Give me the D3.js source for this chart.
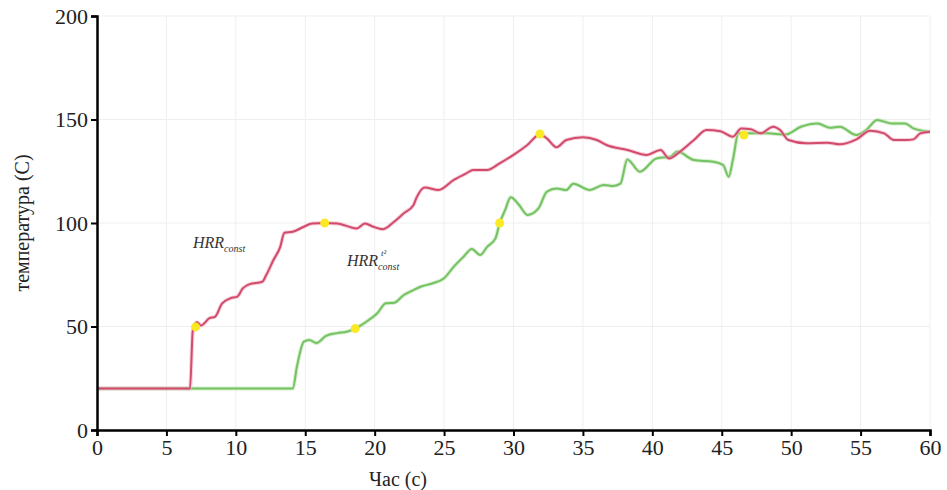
<!DOCTYPE html>
<html>
<head>
<meta charset="utf-8">
<script src="https://cdn.jsdelivr.net/npm/d3@7"></script>
<style>
  body { margin: 0; background: #fff; }
  svg text { font-family: "Liberation Serif", "Times New Roman", "DejaVu Serif", serif; }
</style>
</head>
<body>
<div id="chart"></div>
<script>
// Data
const constTime = [0, 6.7, 6.9, 7.2, 7.5, 8.1, 8.5, 9.0, 9.6, 10.1, 10.5, 11.0, 11.9, 12.2, 12.7, 13.2, 13.5, 14.1, 14.9, 15.5, 16.4, 17.3, 18.7, 19.3, 19.9, 20.6, 21.4, 22.1, 22.8, 23.0, 23.6, 24.6, 25.7, 26.6, 27.1, 28.1, 29.0, 30.0, 31.0, 31.9, 32.4, 33.1, 33.8, 35.0, 36.0, 36.7, 38.2, 39.6, 40.6, 41.2, 42.0, 43.0, 43.9, 44.9, 45.8, 46.4, 47.1, 47.8, 48.7, 49.2, 49.8, 51.1, 52.6, 53.5, 54.7, 55.7, 56.7, 57.4, 58.3, 58.8, 59.3, 60];
const constTemp = [20, 20, 48, 52, 50.5, 54, 54.7, 61, 63.6, 64.4, 68.4, 70.5, 71.6, 75, 82, 88.5, 95.3, 95.8, 98.2, 99.8, 100, 99.8, 97.4, 99.8, 98.2, 97, 100.6, 104.7, 108.7, 112, 117.2, 115.9, 120.8, 124, 125.6, 125.6, 128.8, 132.9, 137.7, 142.8, 140.9, 136.6, 140.1, 141.4, 140.1, 137.7, 135.3, 132.9, 135.3, 131.2, 134.5, 140.1, 144.9, 144.3, 141.7, 145.7, 145.3, 143.3, 146.5, 144.9, 140.1, 138.5, 138.8, 138, 140.4, 144.6, 143.3, 140.1, 140.1, 140.4, 143.3, 144.1];

const t2Time = [0, 14.1, 14.4, 14.9, 15.3, 15.8, 16.5, 17.3, 18.0, 18.6, 19.4, 20.2, 20.8, 21.4, 22.1, 22.8, 23.3, 24.2, 25.0, 25.7, 26.4, 27.0, 27.6, 28.1, 28.7, 29.0, 29.4, 29.8, 30.4, 31.0, 31.8, 32.4, 33.1, 33.8, 34.3, 35.5, 36.5, 37.2, 37.7, 38.2, 39.1, 40.3, 41.3, 41.8, 43.0, 44.4, 45.1, 45.5, 45.8, 46.2, 47.1, 48.3, 49.6, 50.7, 51.9, 52.8, 53.5, 54.7, 55.4, 56.2, 57.2, 58.2, 58.8, 60];
const t2Temp = [20, 20, 30.6, 42.7, 43.5, 42, 45.5, 46.8, 47.5, 49, 52.3, 56.5, 61.2, 61.5, 65.2, 67.6, 69.2, 70.9, 73.3, 78.9, 83.7, 87.5, 84.5, 88.5, 92.6, 99.8, 106.3, 112.5, 108.7, 103.9, 107.1, 115.1, 116.7, 115.9, 119, 116, 118.4, 117.9, 119, 130.7, 124.8, 131.2, 132, 134.5, 130.4, 129.6, 128, 122.4, 130.4, 143.3, 143.3, 143.3, 142.8, 146.5, 148.1, 146, 146.5, 142.5, 144.9, 149.8, 148.1, 148.1, 145.7, 144.1];

// yellow marker points
const markTime = [7.1, 16.4, 31.9, 46.6, 18.6, 29.0];
const markTemp = [49.8, 100, 143, 142.5, 49, 100];

const xTicks = [0, 5, 10, 15, 20, 25, 30, 35, 40, 45, 50, 55, 60];
const yTicks = [0, 50, 100, 150, 200];

const serif = "'Liberation Serif', 'Times New Roman', 'DejaVu Serif', serif";

const W = 947, H = 490;
const margin = { top: 16, right: 17, bottom: 60, left: 97 };
const width = W - margin.left - margin.right,
  height = H - margin.top - margin.bottom;

const svg = d3.select("#chart").append("svg")
  .attr("width", W)
  .attr("height", H);

const g = svg.append("g")
  .attr("transform", `translate(${margin.left},${margin.top})`);

const x = d3.scaleLinear().domain([0, 60]).range([0, width]);
const y = d3.scaleLinear().domain([0, 200]).range([height, 0]);

// faint grid
g.append("g").selectAll("line")
  .data(xTicks.slice(1))
  .enter().append("line")
  .attr("x1", d => x(d)).attr("x2", d => x(d))
  .attr("y1", 0).attr("y2", height)
  .attr("stroke", "#efefef").attr("stroke-width", 1);

g.append("g").selectAll("line")
  .data(yTicks.slice(1))
  .enter().append("line")
  .attr("x1", 0).attr("x2", width)
  .attr("y1", d => y(d)).attr("y2", d => y(d))
  .attr("stroke", "#efefef").attr("stroke-width", 1);

const line = d3.line()
  .x(d => x(d[0]))
  .y(d => y(d[1]))
  .curve(d3.curveMonotoneX);

const series = [
  { pts: d3.zip(t2Time, t2Temp), color: "#74c261", halo: "#b9e3ae" },
  { pts: d3.zip(constTime, constTemp), color: "#d24a6c", halo: "#f0b3c2" }
];

series.forEach(s => {
  g.append("path")
    .attr("d", line(s.pts))
    .attr("fill", "none")
    .attr("stroke", s.halo)
    .attr("stroke-width", 4)
    .attr("stroke-opacity", 0.6);
  g.append("path")
    .attr("d", line(s.pts))
    .attr("fill", "none")
    .attr("stroke", s.color)
    .attr("stroke-width", 2);
});

g.append("g").selectAll("circle")
  .data(d3.zip(markTime, markTemp))
  .enter().append("circle")
  .attr("cx", d => x(d[0]))
  .attr("cy", d => y(d[1]))
  .attr("r", 4.5)
  .attr("fill", "#fbe925");

// axes
const xAxis = g.append("g")
  .attr("transform", `translate(0,${height})`)
  .call(d3.axisBottom(x).tickValues(xTicks).tickSize(6).tickPadding(3));
const yAxis = g.append("g")
  .call(d3.axisLeft(y).tickValues(yTicks).tickSize(6).tickPadding(3));

[xAxis, yAxis].forEach(a => {
  a.attr("font-family", serif).attr("font-size", 22);
  a.select(".domain").attr("stroke", "#000").attr("stroke-width", 2.5);
  a.selectAll(".tick line").attr("stroke", "#000").attr("stroke-width", 2);
  a.selectAll(".tick text").attr("fill", "#222");
});

// axis titles
svg.append("text")
  .attr("x", 398)
  .attr("y", 486)
  .attr("text-anchor", "middle")
  .attr("font-family", serif)
  .attr("font-size", 20)
  .attr("fill", "#222")
  .text("Час (с)");

svg.append("text")
  .attr("transform", "translate(29,223) rotate(-90)")
  .attr("text-anchor", "middle")
  .attr("font-family", serif)
  .attr("font-size", 20)
  .attr("fill", "#222")
  .text("температура (С)");

// curve labels
const lab1 = svg.append("text")
  .attr("x", 193).attr("y", 248)
  .attr("font-family", serif)
  .attr("font-size", 16)
  .attr("font-style", "italic")
  .attr("fill", "#333");
lab1.append("tspan").text("HRR");
lab1.append("tspan").attr("font-size", 10).attr("dy", 4).text("const");

const lab2 = svg.append("text")
  .attr("x", 347).attr("y", 266)
  .attr("font-family", serif)
  .attr("font-size", 16)
  .attr("font-style", "italic")
  .attr("fill", "#333");
lab2.append("tspan").text("HRR");
lab2.append("tspan").attr("font-size", 10).attr("dy", 4).text("const");
svg.append("text")
  .attr("x", 381).attr("y", 256)
  .attr("font-family", serif)
  .attr("font-size", 9)
  .attr("font-style", "italic")
  .attr("fill", "#333")
  .text("t²");
</script>
</body>
</html>
